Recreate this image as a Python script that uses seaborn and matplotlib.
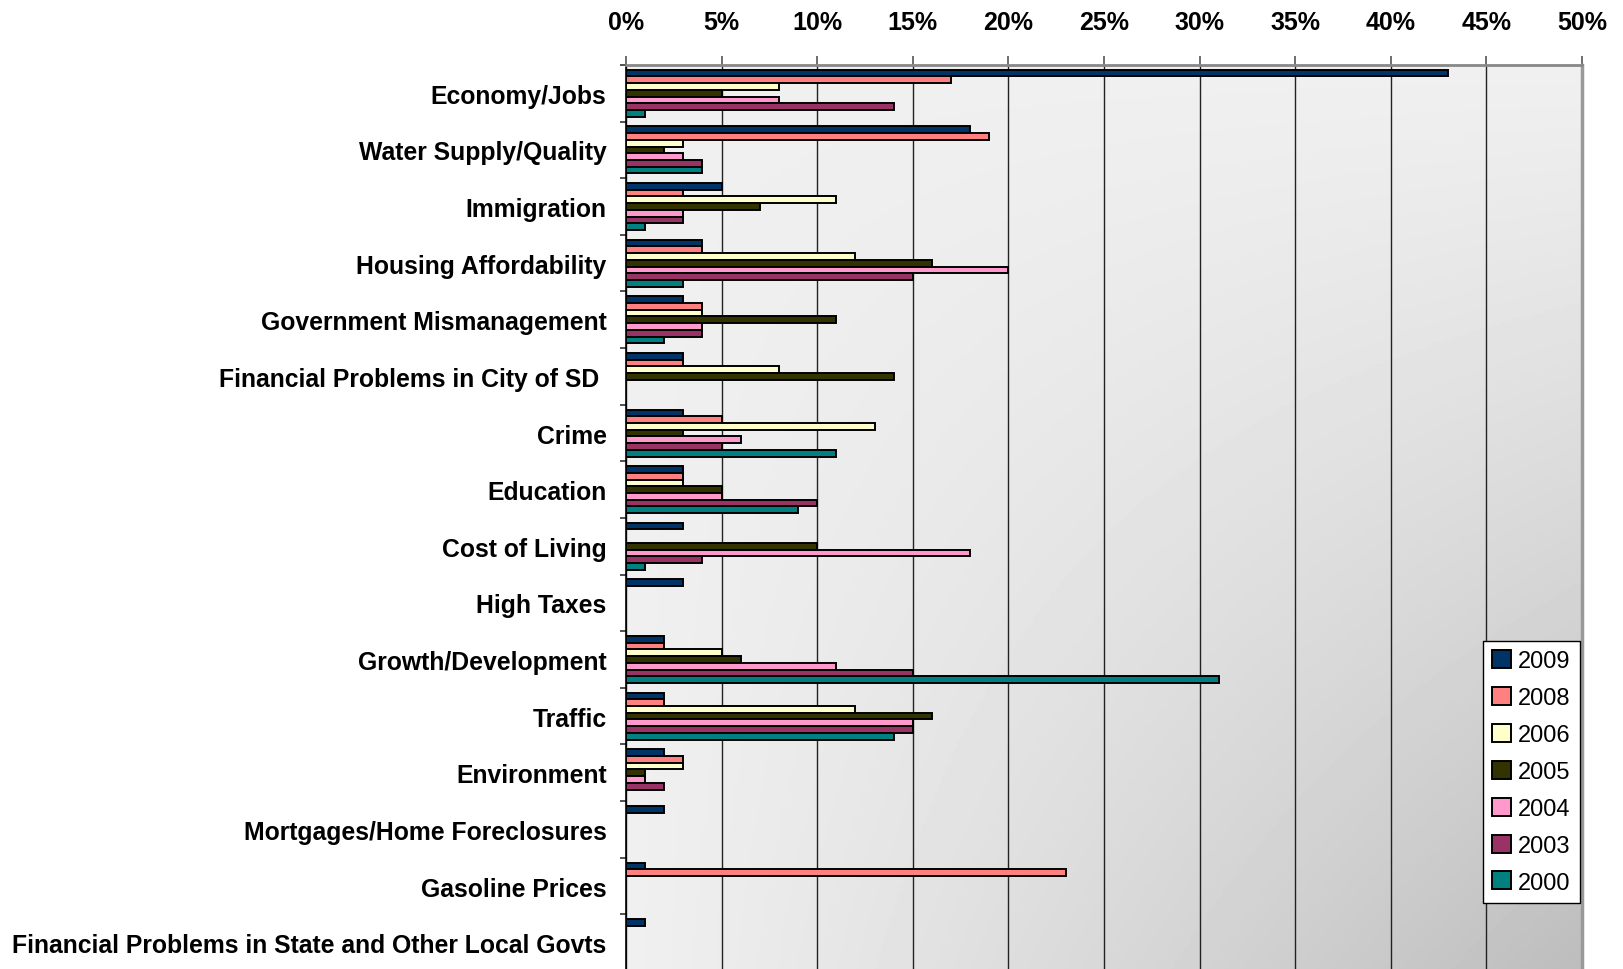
import numpy as np
import pandas as pd
import matplotlib
matplotlib.use("Agg")
import matplotlib.pyplot as plt
from matplotlib.ticker import MultipleLocator, FixedLocator, PercentFormatter
import seaborn as sns

categories = ["Economy/Jobs", "Water Supply/Quality", "Immigration",
              "Housing Affordability", "Government Mismanagement",
              "Financial Problems in City of SD ", "Crime", "Education",
              "Cost of Living", "High Taxes", "Growth/Development", "Traffic",
              "Environment", "Mortgages/Home Foreclosures", "Gasoline Prices",
              "Financial Problems in State and Other Local Govts"]
years = ["2009", "2008", "2006", "2005", "2004", "2003", "2000"]

nan = np.nan
y2009 = [43, 18, 5, 4, 3, 3, 3, 3, 3, 3, 2, 2, 2, 2, 1, 1]
y2008 = [17, 19, 3, 4, 4, 3, 5, 3, nan, nan, 2, 2, 3, nan, 23, nan]
y2006 = [8, 3, 11, 12, 4, 8, 13, 3, nan, nan, 5, 12, 3, nan, nan, nan]
y2005 = [5, 2, 7, 16, 11, 14, 3, 5, 10, nan, 6, 16, 1, nan, nan, nan]
y2004 = [8, 3, 3, 20, 4, nan, 6, 5, 18, nan, 11, 15, 1, nan, nan, nan]
y2003 = [14, 4, 3, 15, 4, nan, 5, 10, 4, nan, 15, 15, 2, nan, nan, nan]
y2000 = [1, 4, 1, 3, 2, nan, 11, 9, 1, nan, 31, 14, nan, nan, nan, nan]

colors = ["#003366", "#FF8080", "#FFFFCC", "#333300", "#FF99CC", "#993366", "#008080"]

series = [y2009, y2008, y2006, y2005, y2004, y2003, y2000]
df = pd.DataFrame({"issue": categories * len(years),
                   "year": np.repeat(years, len(categories)),
                   "pct": np.concatenate(series)}).dropna()

plt.rcParams["font.family"] = ["Liberation Sans", "DejaVu Sans"]

fig = plt.figure(figsize=(16.23, 9.70), dpi=100)
ax = fig.add_axes([0.3857, -0.002, 0.589, 0.934])

# gradient background, darker toward bottom-right
gx, gy = np.meshgrid(np.linspace(0, 1, 300), np.linspace(0, 1, 300))
shade = 0.94 - 0.2 * (gx * gy) ** 1.1
ax.imshow(shade, cmap="gray", vmin=0, vmax=1, extent=[0, 1, 0, 1],
          transform=ax.transAxes, aspect="auto", zorder=0, origin="upper")

sns.barplot(data=df, y="issue", x="pct", hue="year", order=categories,
            hue_order=years, palette=colors, saturation=1, orient="h",
            errorbar=None, width=0.83, edgecolor="black", linewidth=1.4,
            ax=ax, zorder=3)

ax.set_xlim(0, 50)
ax.set_ylim(len(categories) - 0.5, -0.5)
ax.xaxis.set_major_locator(MultipleLocator(5))
ax.xaxis.set_major_formatter(PercentFormatter(decimals=0))
ax.xaxis.tick_top()
ax.grid(axis="x", color="#222222", linewidth=1.0, zorder=1)
ax.set_axisbelow(True)
ax.set_xlabel("")
ax.set_ylabel("")

ax.tick_params(axis="x", which="major", length=6.5, width=1.2, color="#555555",
               labelsize=18, pad=16)
for lab in ax.get_xticklabels():
    lab.set_fontweight("bold")
ax.tick_params(axis="y", which="major", length=0, labelsize=17.8, pad=14)
for lab in ax.get_yticklabels():
    lab.set_fontweight("bold")
ax.yaxis.set_minor_locator(FixedLocator(np.arange(-0.5, len(categories), 1)))
ax.tick_params(axis="y", which="minor", length=4.5, width=1.2, color="#333333")

ax.spines["top"].set_color("#888888")
ax.spines["top"].set_linewidth(2)
ax.spines["right"].set_color("#999999")
ax.spines["right"].set_linewidth(2.5)
ax.spines["left"].set_color("black")
ax.spines["left"].set_linewidth(1.2)
ax.spines["bottom"].set_visible(False)

leg = ax.legend(loc="upper right", bbox_to_anchor=(0.9975, 0.364), fontsize=17,
                frameon=True, fancybox=False, edgecolor="black", framealpha=1,
                handlelength=0.8, handleheight=0.8, handletextpad=0.3,
                labelspacing=0.62, borderpad=0.38, borderaxespad=0)
leg.get_frame().set_linewidth(1.0)
leg.set_zorder(5)

fig.savefig("out.png", dpi=100)
